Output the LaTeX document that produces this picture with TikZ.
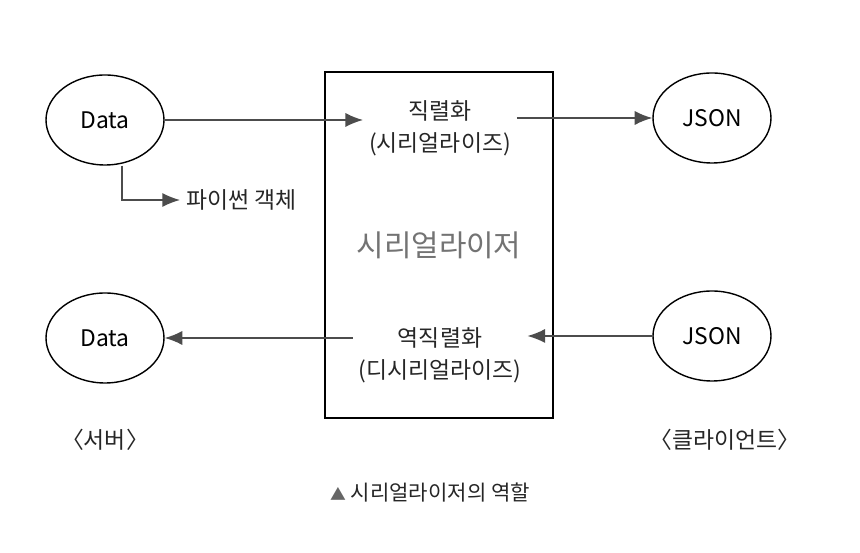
\documentclass[tikz,border=0pt]{standalone}
\usepackage{fontspec}
\setmainfont{Noto Sans CJK KR}
\usetikzlibrary{arrows.meta,positioning,shapes.geometric}
\begin{document}
\begin{tikzpicture}[x=0.02cm,y=-0.02cm,
		blob/.style = {draw, thick, ellipse, minimum width=118*0.02cm, minimum height=90*0.02cm, font=\fontsize{13}{15}\selectfont},
		label/.style = {align=center, font=\fontsize{13}{18}\selectfont, text=black!85},
		flow/.style = {-{Latex[length=10pt,width=8pt]}, black!70, thick},
		>=latex]
		\useasboundingbox (0,0) rectangle (860,553);
		
		% ellipses on both sides
		\node[blob] (d1) at (105,120) {Data};
		\node[blob] (d2) at (105,338) {Data};
		\node[blob] (j1) at (712,118) {JSON};
		\node[blob] (j2) at (712,336) {JSON};
		
		% the serializer box
		\node[draw, thick, minimum width=228*0.02cm, minimum height=346*0.02cm] (box) at (439,245) {};
		\node[label, text=black!55, font=\fontsize{17}{20}\selectfont] (ser) at (439,245) {시리얼라이저};
		\node[label] (enc) at (440,128) {직렬화\\(시리얼라이즈)};
		\node[label] (dec) at (440,355) {역직렬화\\(디시리얼라이즈)};
		\node[label, anchor=west] (py) at (180,200) {파이썬 객체};
		
		% sides and caption
		\node[label] (srv) at (105,440) {〈서버〉};
		\node[label] (cli) at (725,440) {〈클라이언트〉};
		\node[label, font=\fontsize{12}{14}\selectfont] (cap) at (430,493) {\textcolor{black!60}{\fontsize{9}{10}\selectfont▲} 시리얼라이저의 역할};
		
		% connectors
		\draw[flow] (d1.east) -- (d1.east -| enc.west);
		\draw[flow] (enc.east |- j1.west) -- (j1.west);
		\draw[flow] (j2.west) -- (j2.west -| dec.east);
		\draw[flow] (dec.west |- d2.east) -- (d2.east);
		\coordinate (bend) at (122,200);
		\draw[flow] (d1.south -| bend) -- (bend) -- (py.west);
	\end{tikzpicture}
\end{document}
